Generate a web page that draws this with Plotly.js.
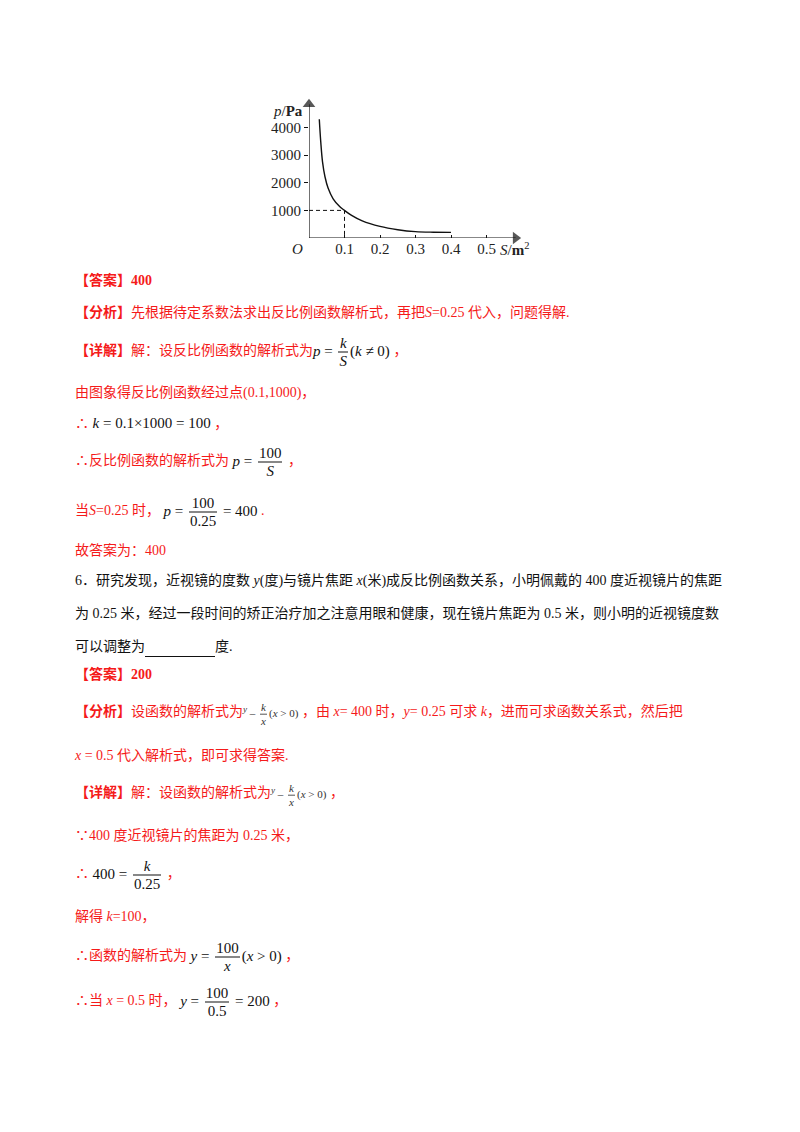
<!DOCTYPE html>
<html>
<head>
<meta charset="utf-8">
<script src="https://cdn.plot.ly/plotly-3.0.1.min.js"></script>
<style>
  body { margin: 0; background: #fff; }
  #page { position: relative; width: 800px; height: 1132px; overflow: hidden;
          font-family: 'Liberation Serif', 'Noto Sans CJK SC', serif; font-size: 14px; color: #111; }
  #chart { position: absolute; left: 260px; top: 90px; width: 280px; height: 180px; }
  .ln { position: absolute; left: 75px; transform: translateY(-50%); white-space: nowrap; line-height: 20px; }
  .red { color: #f51a1a; }
  .m { font-family: 'Liberation Serif', serif; font-size: 15px; color: #111; }
  .frac { display: inline-block; vertical-align: middle; text-align: center; margin: 0 2px; line-height: 17px; }
  .frac > span { display: block; padding: 0 1px; }
  .frac > .n { border-bottom: 1px solid #111; }
  .sf { font-family: 'Liberation Serif', serif; font-size: 11px; color: #333; }
  .sf .frac { line-height: 13px; }
  .sf .frac > .n { border-bottom: 1px solid #555; }
  .blank { display: inline-block; width: 70px; height: 15px; border-bottom: 1px solid #111; vertical-align: bottom; }
</style>
</head>
<body>
<div id="page">
  <div id="chart"></div>

  <div class="ln red" style="top:281px"><b>【答案】400</b></div>
  <div class="ln red" style="top:313px"><b>【分析】</b>先根据待定系数法求出反比例函数解析式，再把<i>S</i>=0.25 代入，问题得解.</div>
  <div class="ln red" style="top:352px"><b>【详解】</b>解：设反比例函数的解析式为<span class="m"><i>p</i> = <span class="frac"><span class="n"><i>k</i></span><span><i>S</i></span></span>(<i>k</i> ≠ 0)</span> ，</div>
  <div class="ln red" style="top:393px">由图象得反比例函数经过点(0.1,1000)，</div>
  <div class="ln red" style="top:423px">∴ <span class="m"><i>k</i> = 0.1×1000 = 100</span> ，</div>
  <div class="ln red" style="top:462px">∴反比例函数的解析式为 <span class="m"><i>p</i> = <span class="frac"><span class="n">100</span><span><i>S</i></span></span></span> ，</div>
  <div class="ln red" style="top:512px">当<i>S</i>=0.25 时，&nbsp;<span class="m"><i>p</i> = <span class="frac"><span class="n">100</span><span>0.25</span></span> = 400</span> .</div>
  <div class="ln red" style="top:551px">故答案为：400</div>

  <div class="ln" style="top:581px">6．研究发现，近视镜的度数 <i>y</i>(度)与镜片焦距 <i>x</i>(米)成反比例函数关系，小明佩戴的 400 度近视镜片的焦距</div>
  <div class="ln" style="top:614px">为 0.25 米，经过一段时间的矫正治疗加之注意用眼和健康，现在镜片焦距为 0.5 米，则小明的近视镜度数</div>
  <div class="ln" style="top:647px">可以调整为<span class="blank">&nbsp;</span>度.</div>

  <div class="ln red" style="top:675px"><b>【答案】200</b></div>
  <div class="ln red" style="top:713px"><b>【分析】</b>设函数的解析式为<span class="sf"><sup><i>y</i></sup> – <span class="frac"><span class="n"><i>k</i></span><span><i>x</i></span></span>(<i>x</i> &gt; 0)</span> ，由 <i>x</i>= 400 时，<i>y</i>= 0.25 可求 <i>k</i>，进而可求函数关系式，然后把</div>
  <div class="ln red" style="top:756px"><i>x</i> = 0.5 代入解析式，即可求得答案.</div>
  <div class="ln red" style="top:794px"><b>【详解】</b>解：设函数的解析式为<span class="sf"><sup><i>y</i></sup> – <span class="frac"><span class="n"><i>k</i></span><span><i>x</i></span></span>(<i>x</i> &gt; 0)</span> ，</div>
  <div class="ln red" style="top:836px">∵400 度近视镜片的焦距为 0.25 米，</div>
  <div class="ln red" style="top:875px">∴ <span class="m">400 = <span class="frac"><span class="n"><i>k</i></span><span>0.25</span></span></span> ，</div>
  <div class="ln red" style="top:917px">解得 <i>k</i>=100，</div>
  <div class="ln red" style="top:957px">∴函数的解析式为 <span class="m"><i>y</i> = <span class="frac"><span class="n">100</span><span><i>x</i></span></span>(<i>x</i> &gt; 0)</span> ，</div>
  <div class="ln red" style="top:1002px">∴当 <i>x</i> = 0.5 时，&nbsp;<span class="m"><i>y</i> = <span class="frac"><span class="n">100</span><span>0.5</span></span> = 200</span> ，</div>
</div>

<script>
// curve (S in m^2, p in Pa)
var areaS = [0.029, 0.033, 0.038, 0.045, 0.054, 0.068, 0.087, 0.1, 0.12, 0.15, 0.2, 0.25, 0.3, 0.35, 0.4];
var pressureP = [4300, 3500, 2770, 2220, 1800, 1420, 1130, 1000, 820, 620, 420, 300, 230, 210, 205];

// dashed guide to the point (0.1, 1000)
var guideS = [0, 0.1, 0.1];
var guideP = [1000, 1000, 0];

// where the two axis arrows end
var axisEndS = [0.582, 0];
var axisEndP = [0, 4850];

var xTicks = [0.1, 0.2, 0.3, 0.4, 0.5];
var xTickText = ['0.1', '0.2', '0.3', '0.4', '0.5'];
var yTicks = [1000, 2000, 3000, 4000];
var yTickText = ['1000', '2000', '3000', '4000'];

var serif = 'Liberation Serif, Times New Roman, serif';

var curve = {
  x: areaS,
  y: pressureP,
  type: 'scatter',
  mode: 'lines',
  line: { color: '#111', width: 1.4, shape: 'spline', smoothing: 1 },
  hoverinfo: 'skip'
};

var guide = {
  x: guideS,
  y: guideP,
  type: 'scatter',
  mode: 'lines',
  line: { color: '#111', width: 1, dash: '4px,3px' },
  hoverinfo: 'skip'
};

// axis lines with solid arrowheads at their ends
var xArrow = {
  x: [0, axisEndS[0]],
  y: [0, axisEndP[0]],
  type: 'scatter',
  mode: 'lines+markers',
  cliponaxis: false,
  line: { color: '#111', width: 1.2 },
  marker: { symbol: 'triangle-right', size: [0, 11], color: '#111', line: { width: 0 } },
  hoverinfo: 'skip'
};

var yArrow = {
  x: [0, axisEndS[1]],
  y: [0, axisEndP[1]],
  type: 'scatter',
  mode: 'lines+markers',
  cliponaxis: false,
  line: { color: '#111', width: 1.2 },
  marker: { symbol: 'triangle-up', size: [0, 11], color: '#111', line: { width: 0 } },
  hoverinfo: 'skip'
};

var layout = {
  width: 280,
  height: 180,
  margin: { l: 49, r: 18, t: 10, b: 32 },
  paper_bgcolor: 'rgba(0,0,0,0)',
  plot_bgcolor: 'rgba(0,0,0,0)',
  showlegend: false,
  font: { family: serif, size: 15, color: '#222' },
  xaxis: {
    range: [0, 0.6],
    showgrid: false,
    zeroline: false,
    showline: false,
    tickvals: xTicks,
    ticktext: xTickText,
    ticks: 'inside',
    ticklen: 3,
    tickcolor: '#111',
    tickfont: { family: serif, size: 15, color: '#222' }
  },
  yaxis: {
    range: [0, 5000],
    showgrid: false,
    zeroline: false,
    showline: false,
    tickvals: yTicks,
    ticktext: yTickText,
    ticks: 'outside',
    ticklen: 4,
    tickcolor: '#111',
    tickfont: { family: serif, size: 15, color: '#222' }
  },
  annotations: [
    { x: 0, y: 0, xref: 'x', yref: 'y', text: '<i>O</i>', showarrow: false,
      xanchor: 'right', yanchor: 'top', xshift: -4, yshift: -1, font: { family: serif, size: 15, color: '#222' } },
    { x: 0, y: 4600, xref: 'x', yref: 'y', text: '<i>p</i>/<b>Pa</b>', showarrow: false,
      xanchor: 'right', yanchor: 'middle', xshift: -4, font: { family: serif, size: 15, color: '#222' } },
    { x: 0.531, y: 0, xref: 'x', yref: 'y', text: '<i>S</i>/<b>m</b><sup>2</sup>', showarrow: false,
      xanchor: 'left', yanchor: 'top', font: { family: serif, size: 15, color: '#222' } }
  ]
};

Plotly.newPlot('chart', [guide, curve, xArrow, yArrow], layout, { staticPlot: true, displayModeBar: false });
</script>
</body>
</html>
